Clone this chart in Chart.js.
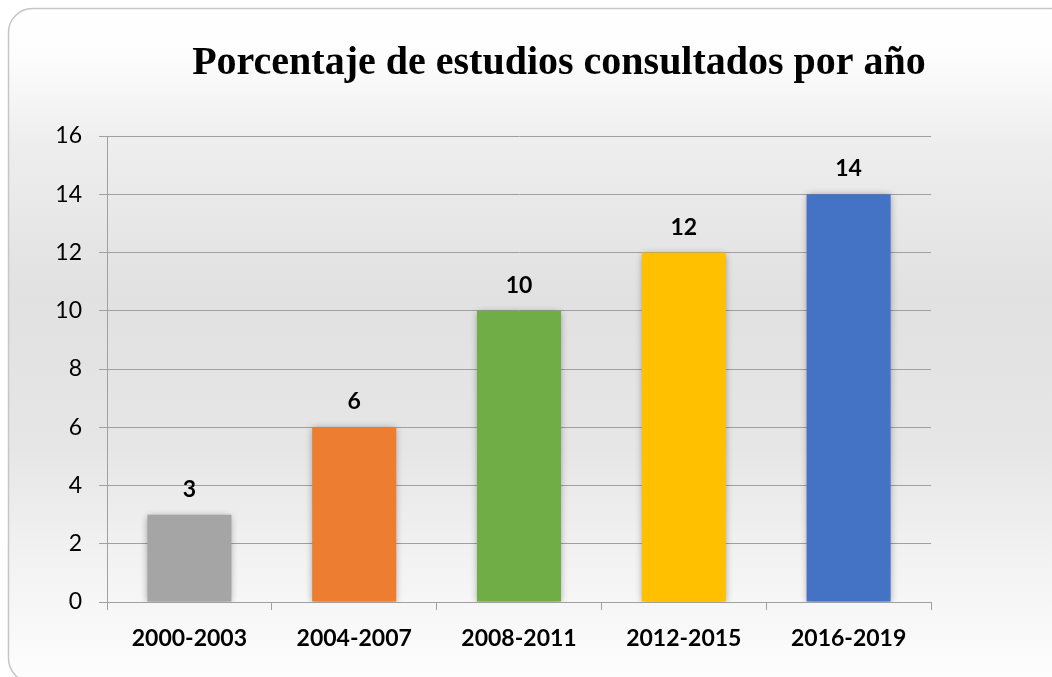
<!DOCTYPE html>
<html>
<head>
<meta charset="utf-8">
<script src="https://cdn.jsdelivr.net/npm/chart.js@4"></script>
<style>
  html, body { margin: 0; padding: 0; background: #ffffff; }
  canvas { display: block; }
</style>
</head>
<body>
<canvas id="c" width="1052" height="677"></canvas>
<script>
const chartTitle = 'Porcentaje de estudios consultados por año';
const categories = ['2000-2003', '2004-2007', '2008-2011', '2012-2015', '2016-2019'];
const values = [3, 6, 10, 12, 14];
const barColors = ['#a5a5a5', '#ed7d31', '#70ad47', '#ffc000', '#4472c4'];
const yTicks = [0, 2, 4, 6, 8, 10, 12, 14, 16];

const gridColor = '#a0a0a0';

const backgroundPlugin = {
  id: 'bg',
  beforeDraw(chart) {
    const ctx = chart.ctx;
    ctx.save();
    const x = 8.5, y = 8.5, w = 1200, h = 674, r = 24;
    ctx.beginPath();
    ctx.roundRect(x, y, w, h, r);
    const g = ctx.createLinearGradient(0, 8, 0, 677);
    g.addColorStop(0.00, '#ffffff');
    g.addColorStop(0.07, '#fdfdfd');
    g.addColorStop(0.20, '#eeeeee');
    g.addColorStop(0.43, '#e1e1e1');
    g.addColorStop(0.66, '#e6e6e6');
    g.addColorStop(0.82, '#f2f2f2');
    g.addColorStop(1.00, '#fdfdfd');
    ctx.fillStyle = g;
    ctx.fill();
    ctx.lineWidth = 1.5;
    ctx.strokeStyle = '#c6c6c6';
    ctx.stroke();
    ctx.restore();
  },
  afterDraw(chart) {
    const ctx = chart.ctx;
    ctx.save();
    ctx.font = 'bold 40px "Liberation Serif", "Times New Roman", serif';
    ctx.fillStyle = '#000000';
    ctx.textAlign = 'center';
    ctx.textBaseline = 'alphabetic';
    ctx.fillText(chartTitle, 559, 74);
    ctx.restore();
  }
};

const shadowPlugin = {
  id: 'barShadow',
  beforeDatasetsDraw(chart) {
    const ctx = chart.ctx;
    ctx.save();
    ctx.shadowColor = 'rgba(0,0,0,0.35)';
    ctx.shadowBlur = 7;
    ctx.shadowOffsetX = 0;
    ctx.shadowOffsetY = 1;
  },
  afterDatasetsDraw(chart) {
    const ctx = chart.ctx;
    ctx.restore();
    ctx.save();
    ctx.font = 'bold 23px Lato, "Open Sans", sans-serif';
    ctx.fillStyle = '#000000';
    ctx.textAlign = 'center';
    ctx.textBaseline = 'alphabetic';
    const meta = chart.getDatasetMeta(0);
    meta.data.forEach((bar, i) => {
      ctx.fillText(String(values[i]), bar.x, bar.y - 18);
    });
    ctx.restore();
  }
};

new Chart(document.getElementById('c'), {
  type: 'bar',
  data: {
    labels: categories,
    datasets: [{
      data: values,
      backgroundColor: barColors,
      borderWidth: 0,
      categoryPercentage: 1.0,
      barPercentage: 0.51
    }]
  },
  options: {
    responsive: false,
    animation: false,
    devicePixelRatio: 1,
    layout: { padding: { top: 136, left: 0, right: 121, bottom: 0 } },
    plugins: {
      legend: { display: false },
      title: { display: false },
      tooltip: { enabled: false }
    },
    scales: {
      x: {
        grid: {
          display: true,
          offset: true,
          drawOnChartArea: false,
          drawTicks: true,
          tickLength: 8,
          color: gridColor,
          lineWidth: 1
        },
        border: { display: true, color: gridColor, width: 1 },
        ticks: {
          color: '#000000',
          padding: 15,
          font: { family: 'Lato, "Open Sans", sans-serif', size: 23, weight: 'bold' }
        },
        afterFit(scale) { scale.height = 75; }
      },
      y: {
        min: 0,
        max: 16,
        afterBuildTicks(scale) { scale.ticks = yTicks.map(v => ({ value: v })); },
        grid: {
          display: true,
          drawOnChartArea: true,
          drawTicks: true,
          tickLength: 8,
          color: gridColor,
          lineWidth: 1
        },
        border: { display: true, color: gridColor, width: 1 },
        ticks: {
          color: '#000000',
          padding: 17,
          font: { family: 'Lato, "Open Sans", sans-serif', size: 23, weight: 'normal' }
        },
        afterFit(scale) { scale.width = 107; }
      }
    }
  },
  plugins: [backgroundPlugin, shadowPlugin]
});
</script>
</body>
</html>
